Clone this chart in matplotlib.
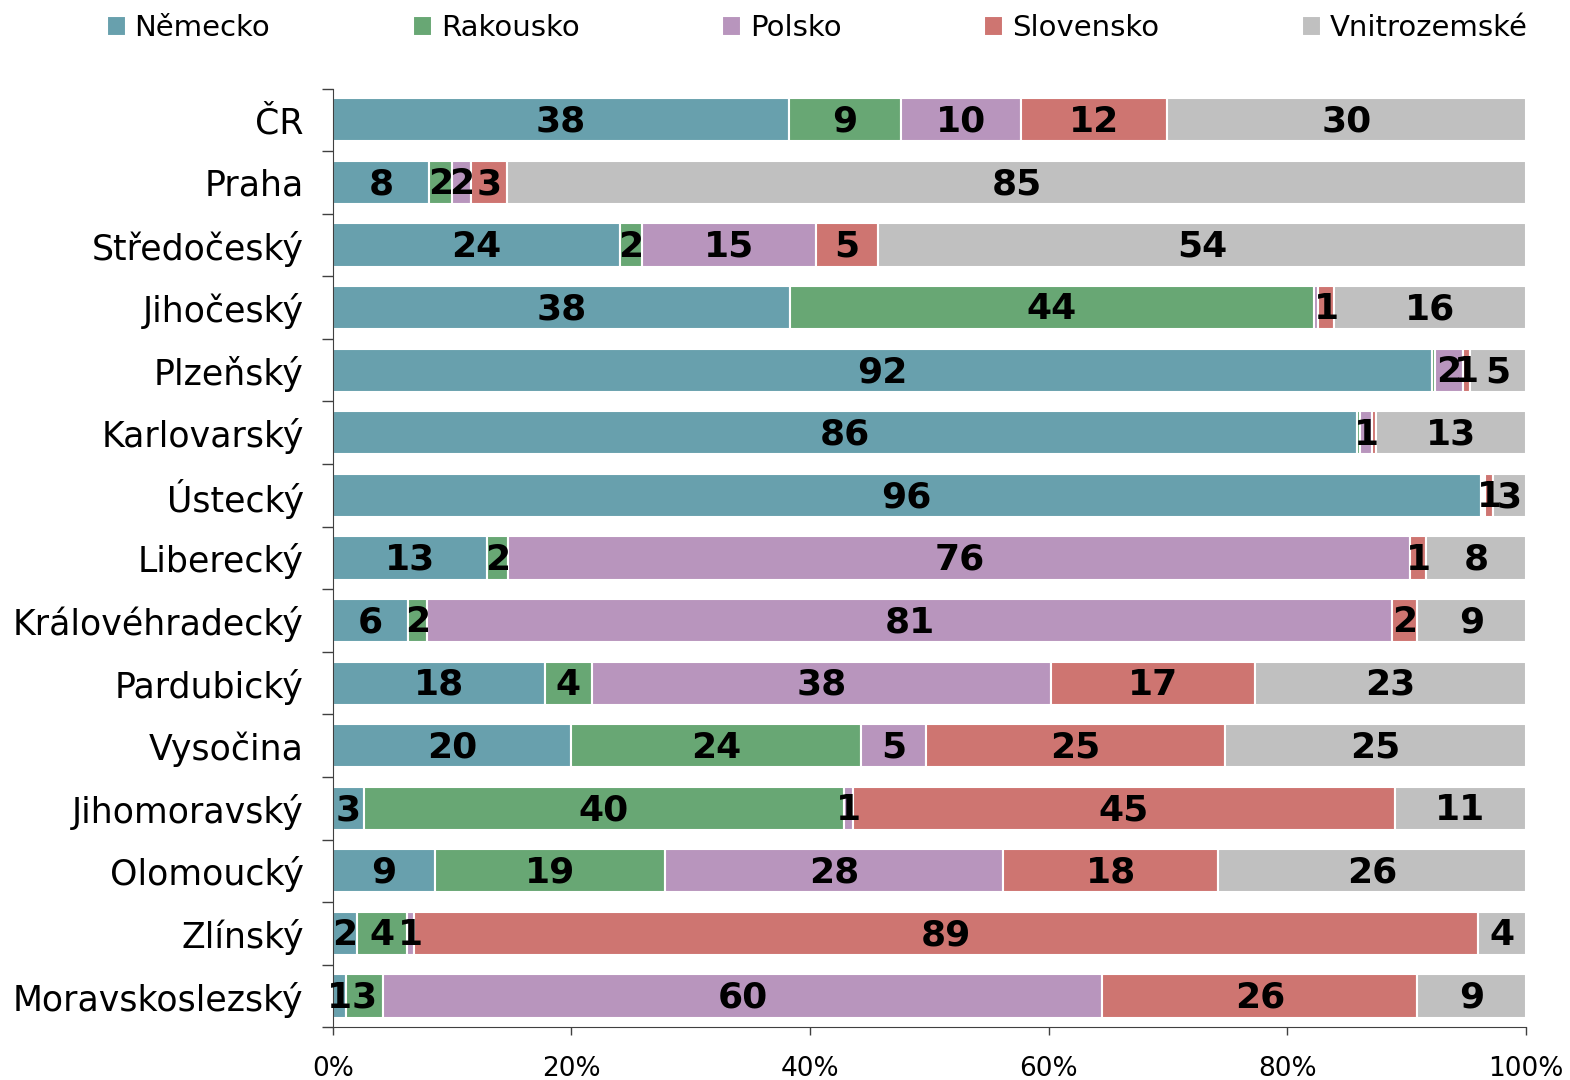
import matplotlib.pyplot as plt
import numpy as np

# regions (top to bottom) and share of each destination, in %
regions = ['ČR', 'Praha', 'Středočeský', 'Jihočeský', 'Plzeňský', 'Karlovarský',
           'Ústecký', 'Liberecký', 'Královéhradecký', 'Pardubický', 'Vysočina',
           'Jihomoravský', 'Olomoucký', 'Zlínský', 'Moravskoslezský']
series = ['Německo', 'Rakousko', 'Polsko', 'Slovensko', 'Vnitrozemské']

nemecko = [38.2, 8.1, 24.1, 38.3, 92.1, 85.8, 96.2, 12.9, 6.3, 17.8, 20.0, 2.6, 8.6, 2.0, 1.1]
rakousko = [9.4, 1.9, 1.8, 43.9, 0.3, 0.3, 0.2, 1.8, 1.6, 3.9, 24.3, 40.2, 19.2, 4.2, 3.1]
polsko = [10.1, 1.6, 14.6, 0.4, 2.3, 1.0, 0.2, 75.6, 80.9, 38.5, 5.4, 0.8, 28.4, 0.6, 60.3]
slovensko = [12.2, 3.0, 5.2, 1.3, 0.6, 0.3, 0.6, 1.3, 2.1, 17.1, 25.1, 45.4, 18.0, 89.2, 26.4]
vnitro = [30.1, 85.4, 54.3, 16.1, 4.7, 12.6, 2.8, 8.4, 9.1, 22.7, 25.2, 11.0, 25.8, 4.0, 9.1]

colors = ['#68a0ad', '#68a774', '#b895bd', '#ce7571', '#c0c0c0']

data = np.array([nemecko, rakousko, polsko, slovensko, vnitro])

fig = plt.figure(figsize=(15.7, 10.8), dpi=100)
ax = fig.add_axes([0.212, 0.0488, 0.76, 0.8692])

y = np.arange(len(regions))
left = np.zeros(len(regions))
for i in range(len(series)):
    ax.barh(y, data[i], left=left, height=0.69, color=colors[i],
            edgecolor='white', linewidth=1.5, label=series[i])
    for j in range(len(regions)):
        v = data[i][j]
        if round(v) >= 1:
            ax.text(left[j] + v / 2, y[j] + 0.03, str(int(round(v))), ha='center', va='center',
                    fontsize=26, fontweight='bold', color='black')
    left += data[i]

ax.set_xlim(0, 100)
ax.set_ylim(len(regions) - 0.5, -0.5)
ax.set_xticks(np.arange(0, 101, 20))
ax.set_xticklabels([str(v) + '%' for v in range(0, 101, 20)], fontsize=19)
ax.set_yticks(y)
ax.set_yticklabels(regions, fontsize=25)
ax.set_yticks(np.arange(-0.5, len(regions), 1), minor=True)
ax.tick_params(axis='y', which='major', length=0, pad=21)
ax.tick_params(axis='y', which='minor', length=8, width=1, color='#404040')
ax.tick_params(axis='x', length=6, width=1, color='#404040', pad=15)
ax.spines['top'].set_visible(False)
ax.spines['right'].set_visible(False)
ax.spines['left'].set_color('#404040')
ax.spines['bottom'].set_color('#404040')

fig.legend(loc='lower left', bbox_to_anchor=(0.068, 0.961, 0.905, 0.04), mode='expand',
           ncol=5, frameon=False, fontsize=21, handlelength=0.65, handleheight=0.65,
           handletextpad=0.3, borderaxespad=0, borderpad=0)

plt.savefig('out.png', dpi=100)
